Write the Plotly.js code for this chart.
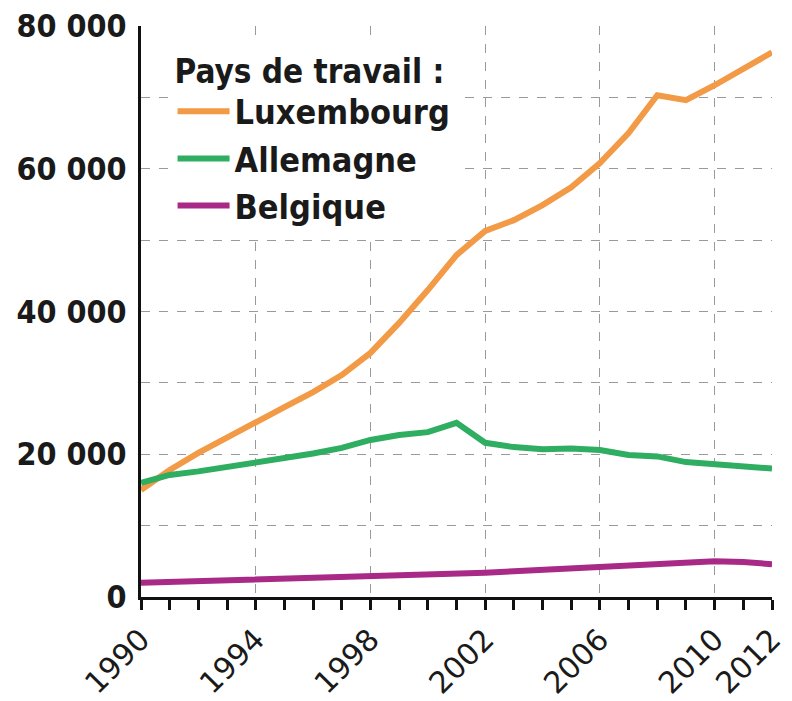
<!DOCTYPE html>
<html>
<head>
<meta charset="utf-8">
<script src="https://cdn.plot.ly/plotly-3.0.1.min.js"></script>
<style>html,body{margin:0;padding:0;background:#fff;}#chart{width:792px;height:701px;}</style>
</head>
<body>
<div id="chart"></div>
<script>
const years = [1990,1991,1992,1993,1994,1995,1996,1997,1998,1999,2000,2001,2002,2003,2004,2005,2006,2007,2008,2009,2010,2011,2012];
const luxembourg = [15000,17800,20200,22400,24400,26600,28700,31100,34200,38400,43000,47900,51300,52800,54900,57400,60800,65000,70300,69600,71700,74100,76300];
const allemagne = [16000,17100,17600,18200,18900,19600,20100,20900,22000,22700,23100,24400,21600,21000,20700,20800,20600,19900,19700,18900,18600,18300,18000];
const belgique = [2000,2100,2400,2450,2500,2600,2700,2800,2900,3000,3100,3250,3400,3600,3800,4000,4200,4500,4800,4950,5000,4900,4600];
const seriesNames = ['Luxembourg','Allemagne','Belgique'];
const legendTitle = 'Pays de travail :';
const xTickVals = [1990,1994,1998,2002,2006,2010,2012];
const yTickVals = [0,20000,40000,60000,80000];
const yTickText = ['0','20 000','40 000','60 000','80 000'];

const colors = ['#f29a45','#2fae62','#a82a86'];
const data = [luxembourg, allemagne, belgique].map((ys,i)=>({
  x: years, y: ys, type:'scatter', mode:'lines', name: seriesNames[i],
  line:{color:colors[i], width:6}
}));

const boldFont = 'DejaVu Sans Condensed, DejaVu Sans, sans-serif';
const gridCol = '#9a9a9a';
const layout = {
  width:792, height:701,
  margin:{l:141, r:20, t:26, b:104},
  paper_bgcolor:'#fff', plot_bgcolor:'#fff',
  font:{family:'DejaVu Sans, sans-serif', color:'#1a1a1a'},
  showlegend:true,
  legend:{
    x:0.05, y:0.976, xanchor:'left', yanchor:'top',
    bgcolor:'#fff', borderwidth:0,
    font:{family:boldFont, size:34, weight:'bold', color:'#1a1a1a'},
    title:{text:legendTitle, font:{family:boldFont, size:33, weight:'bold', color:'#1a1a1a'}, side:'top'},
    itemwidth:52
  },
  xaxis:{
    range:[1990,2012], tickvals:xTickVals, ticktext:xTickVals.map(String),
    tickangle:-45, tickfont:{size:30, color:'#1a1a1a'},
    ticks:'outside', ticklen:10, tickwidth:3, tickcolor:'#111',
    showline:true, linewidth:3, linecolor:'#111',
    showgrid:true, gridcolor:gridCol, griddash:'dash', gridwidth:1,
    zeroline:false,
    minor:{dtick:1, tick0:1990, ticks:'outside', ticklen:10, tickwidth:3, tickcolor:'#111', showgrid:false}
  },
  yaxis:{
    range:[0,80000], tickvals:yTickVals, ticktext:yTickText,
    tickfont:{family:boldFont, size:32, weight:'bold', color:'#1a1a1a'},
    ticks:'', ticklabelstandoff:5,
    showline:true, linewidth:3, linecolor:'#111',
    showgrid:true, gridcolor:gridCol, griddash:'dash', gridwidth:1,
    zeroline:false,
    minor:{dtick:10000, tick0:0, showgrid:true, gridcolor:gridCol, griddash:'dash', gridwidth:1}
  }
};
Plotly.newPlot('chart', data, layout, {displayModeBar:false, staticPlot:true});
</script>
</body>
</html>
